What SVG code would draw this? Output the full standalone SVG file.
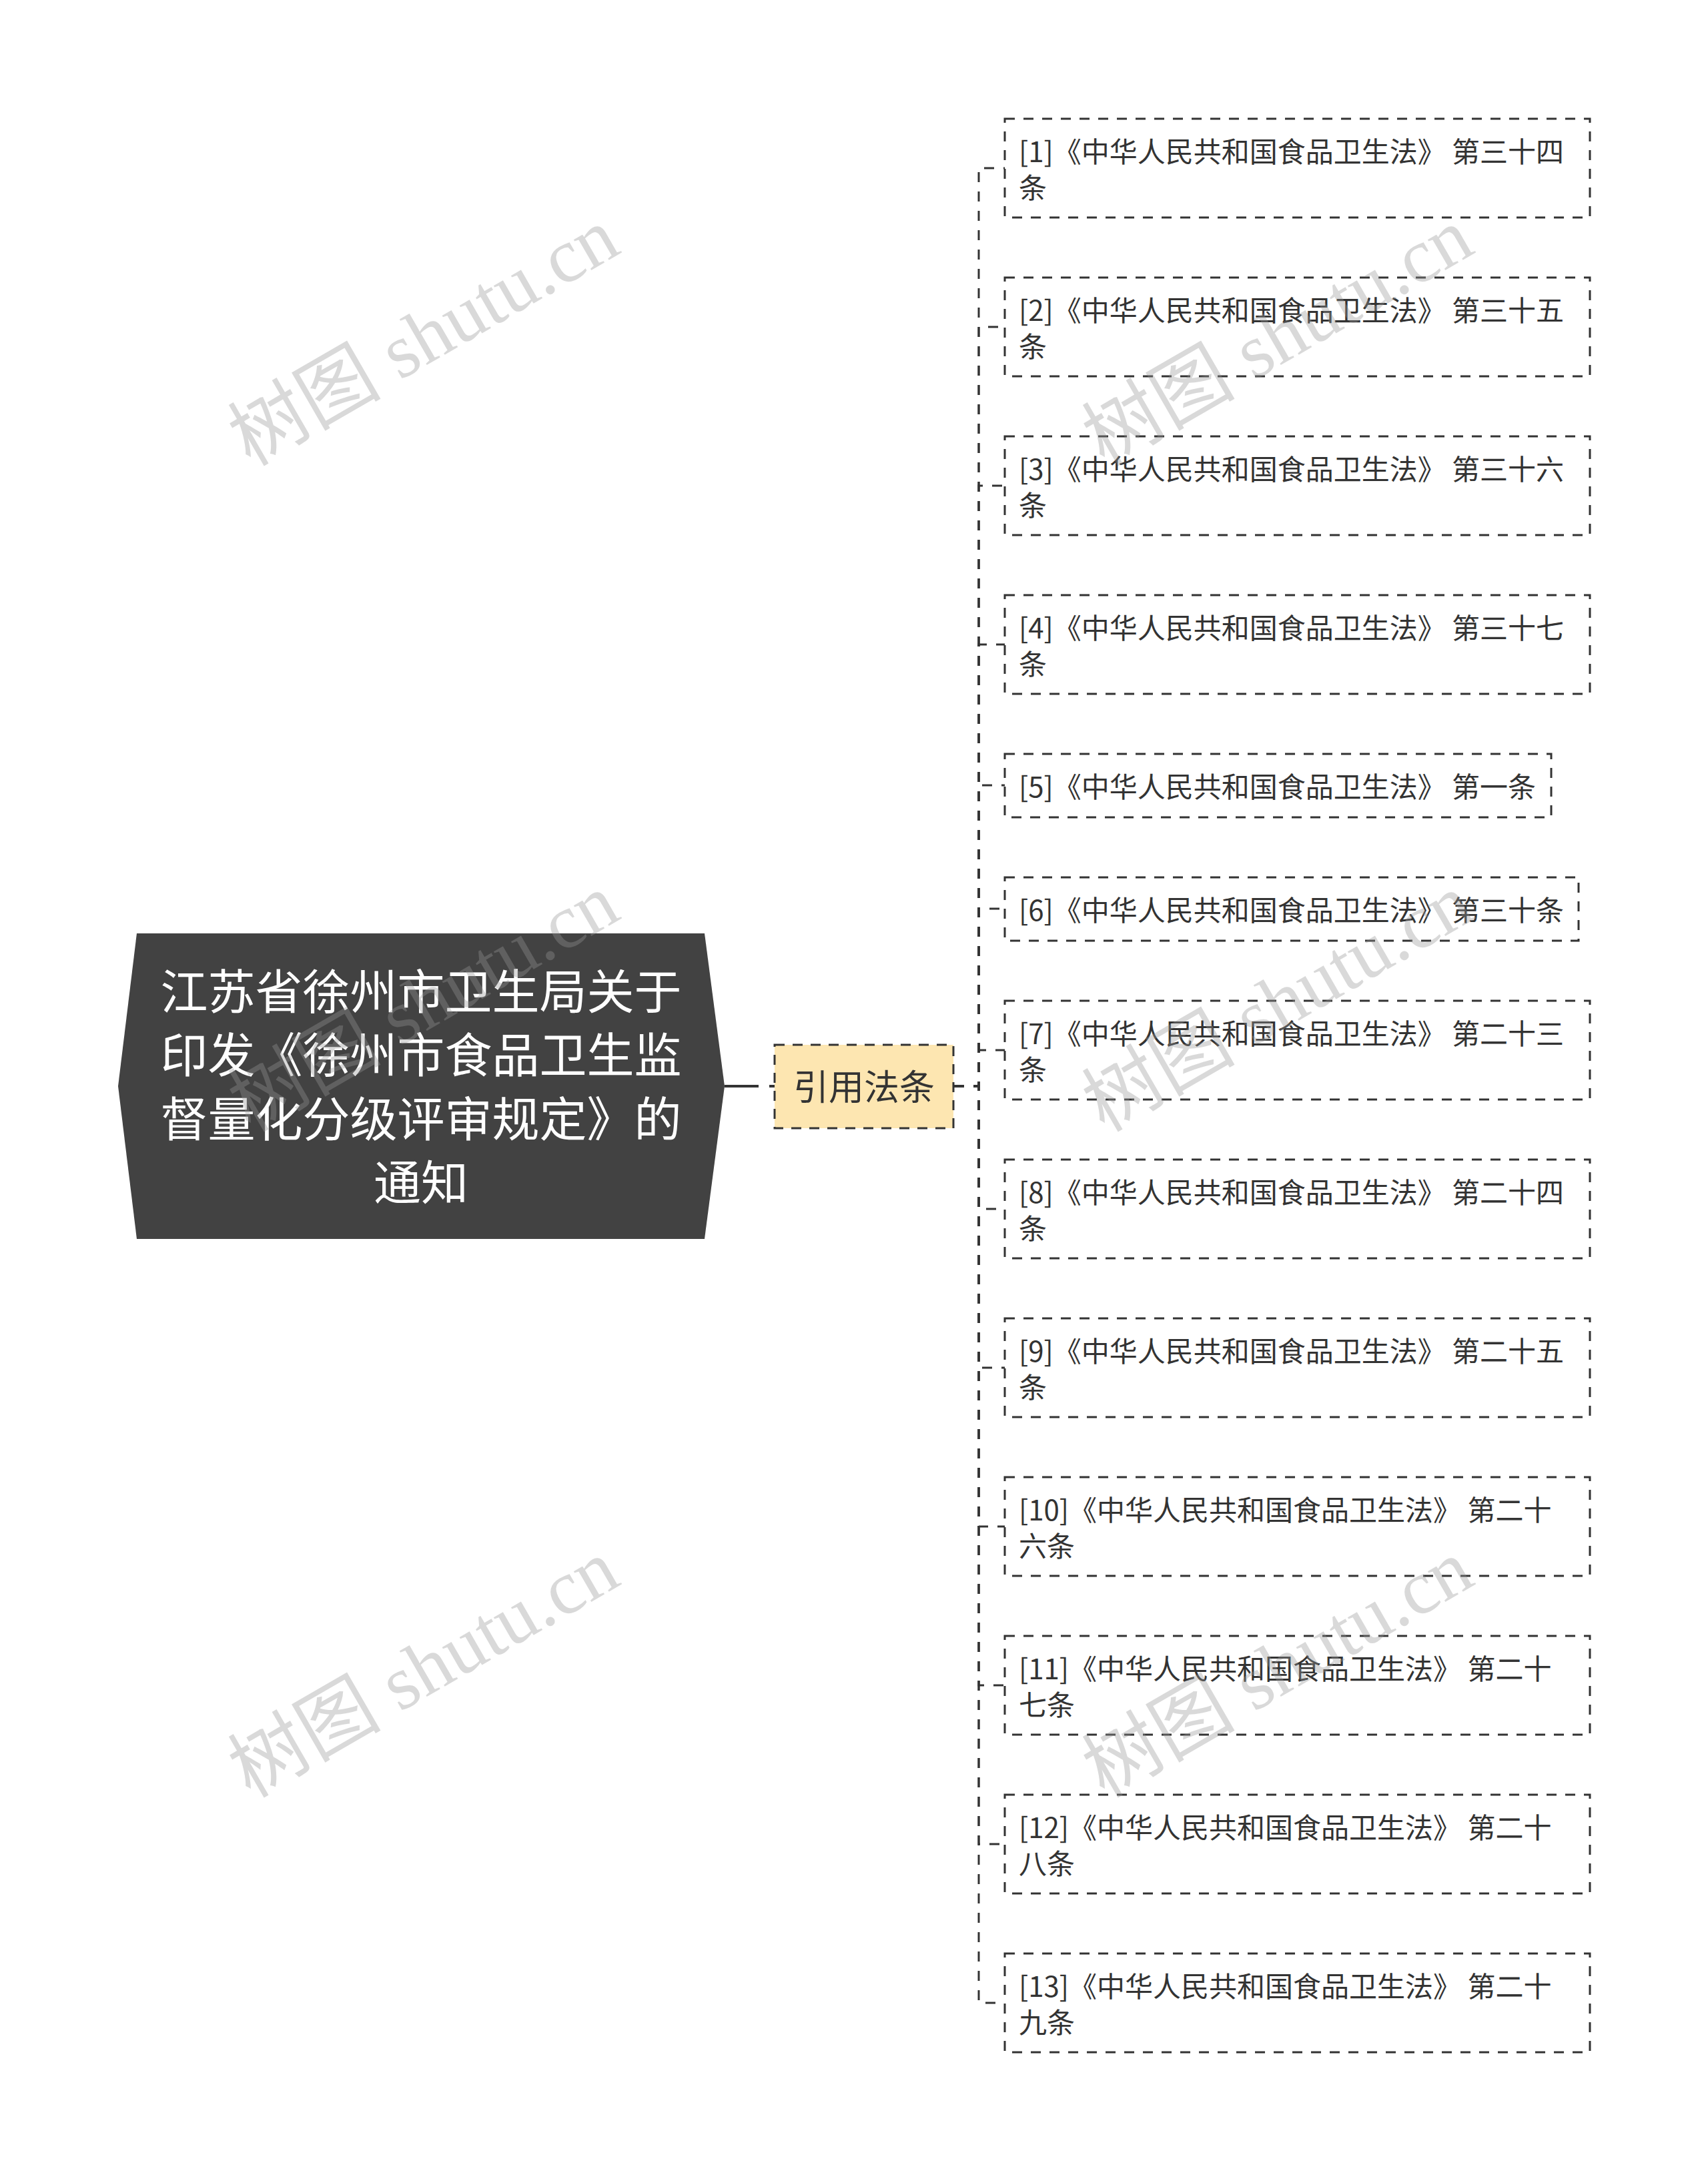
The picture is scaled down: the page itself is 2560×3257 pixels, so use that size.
<svg xmlns="http://www.w3.org/2000/svg" width="2560" height="3257" viewBox="0 0 2560 3257">
<style>
.bg{fill:#ffffff}
.root{fill:#424242}
.rt{font-family:"Noto Sans CJK SC","Noto Sans",sans-serif;font-size:71px;fill:#ffffff;text-anchor:middle}
.mid{fill:#fde6b1;stroke:#333333;stroke-width:3;stroke-dasharray:15 12}
.mt{font-family:"Noto Sans CJK SC","Noto Sans",sans-serif;font-size:53px;fill:#333333;text-anchor:middle}
.leaf{fill:#ffffff;stroke:#333333;stroke-width:3;stroke-dasharray:15 13}
.lt{font-family:"Noto Sans CJK SC","Noto Sans",sans-serif;font-size:42px;fill:#333333}
.con{fill:none;stroke:#333333;stroke-width:3;stroke-dasharray:15 14}
.wm{font-family:"Liberation Serif","Noto Sans CJK SC",serif;font-size:115px;fill:rgb(150,150,150);fill-opacity:0.36}
</style>
<rect class="bg" x="0" y="0" width="2560" height="3257"/>

<g id="connectors">
  <line x1="1086" y1="1628" x2="1161" y2="1628" stroke="#333333" stroke-width="4" stroke-dasharray="51 16"/>
  <path class="con" d="M1430,1628 H1467 V252 H1506"/>
  <path class="con" d="M1430,1628 H1467 V490 H1506"/>
  <path class="con" d="M1430,1628 H1467 V728 H1506"/>
  <path class="con" d="M1430,1628 H1467 V966 H1506"/>
  <path class="con" d="M1430,1628 H1467 V1177 H1506"/>
  <path class="con" d="M1430,1628 H1467 V1362 H1506"/>
  <path class="con" d="M1430,1628 H1467 V1574 H1506"/>
  <path class="con" d="M1430,1628 H1467 V1812 H1506"/>
  <path class="con" d="M1430,1628 H1467 V2050 H1506"/>
  <path class="con" d="M1430,1628 H1467 V2288 H1506"/>
  <path class="con" d="M1430,1628 H1467 V2526 H1506"/>
  <path class="con" d="M1430,1628 H1467 V2764 H1506"/>
  <path class="con" d="M1430,1628 H1467 V3002 H1506"/>
</g>

<g id="node-root">
  <polygon class="root" points="205,1399 1056,1399 1086,1628 1056,1857 205,1857 177,1628"/>
  <text class="rt" x="631" y="1512">江苏省徐州市卫生局关于</text>
  <text class="rt" x="631" y="1607">印发《徐州市食品卫生监</text>
  <text class="rt" x="631" y="1703">督量化分级评审规定》的</text>
  <text class="rt" x="631" y="1798">通知</text>
</g>

<g id="node-cite">
  <rect class="mid" x="1161" y="1566" width="268" height="125"/>
  <text class="mt" x="1295" y="1649">引用法条</text>
</g>

<g id="leaf-1">
  <rect class="leaf" x="1506" y="178" width="877" height="148"/>
  <text class="lt" x="1527" y="243">[1]《中华人民共和国食品卫生法》 第三十四</text>
  <text class="lt" x="1527" y="297">条</text>
</g>
<g id="leaf-2">
  <rect class="leaf" x="1506" y="416" width="877" height="148"/>
  <text class="lt" x="1527" y="481">[2]《中华人民共和国食品卫生法》 第三十五</text>
  <text class="lt" x="1527" y="535">条</text>
</g>
<g id="leaf-3">
  <rect class="leaf" x="1506" y="654" width="877" height="148"/>
  <text class="lt" x="1527" y="719">[3]《中华人民共和国食品卫生法》 第三十六</text>
  <text class="lt" x="1527" y="773">条</text>
</g>
<g id="leaf-4">
  <rect class="leaf" x="1506" y="892" width="877" height="148"/>
  <text class="lt" x="1527" y="957">[4]《中华人民共和国食品卫生法》 第三十七</text>
  <text class="lt" x="1527" y="1011">条</text>
</g>
<g id="leaf-5">
  <rect class="leaf" x="1506" y="1130" width="819" height="95"/>
  <text class="lt" x="1527" y="1195">[5]《中华人民共和国食品卫生法》 第一条</text>
</g>
<g id="leaf-6">
  <rect class="leaf" x="1506" y="1315" width="860" height="95"/>
  <text class="lt" x="1527" y="1380">[6]《中华人民共和国食品卫生法》 第三十条</text>
</g>
<g id="leaf-7">
  <rect class="leaf" x="1506" y="1500" width="877" height="148"/>
  <text class="lt" x="1527" y="1565">[7]《中华人民共和国食品卫生法》 第二十三</text>
  <text class="lt" x="1527" y="1619">条</text>
</g>
<g id="leaf-8">
  <rect class="leaf" x="1506" y="1738" width="877" height="148"/>
  <text class="lt" x="1527" y="1803">[8]《中华人民共和国食品卫生法》 第二十四</text>
  <text class="lt" x="1527" y="1857">条</text>
</g>
<g id="leaf-9">
  <rect class="leaf" x="1506" y="1976" width="877" height="148"/>
  <text class="lt" x="1527" y="2041">[9]《中华人民共和国食品卫生法》 第二十五</text>
  <text class="lt" x="1527" y="2095">条</text>
</g>
<g id="leaf-10">
  <rect class="leaf" x="1506" y="2214" width="877" height="148"/>
  <text class="lt" x="1527" y="2279">[10]《中华人民共和国食品卫生法》 第二十</text>
  <text class="lt" x="1527" y="2333">六条</text>
</g>
<g id="leaf-11">
  <rect class="leaf" x="1506" y="2452" width="877" height="148"/>
  <text class="lt" x="1527" y="2517">[11]《中华人民共和国食品卫生法》 第二十</text>
  <text class="lt" x="1527" y="2571">七条</text>
</g>
<g id="leaf-12">
  <rect class="leaf" x="1506" y="2690" width="877" height="148"/>
  <text class="lt" x="1527" y="2755">[12]《中华人民共和国食品卫生法》 第二十</text>
  <text class="lt" x="1527" y="2809">八条</text>
</g>
<g id="leaf-13">
  <rect class="leaf" x="1506" y="2928" width="877" height="148"/>
  <text class="lt" x="1527" y="2993">[13]《中华人民共和国食品卫生法》 第二十</text>
  <text class="lt" x="1527" y="3047">九条</text>
</g>

<g id="watermarks">
  <text class="wm" x="375" y="700" transform="rotate(-30 375 700)">树图 shutu.cn</text>
  <text class="wm" x="1655" y="700" transform="rotate(-30 1655 700)">树图 shutu.cn</text>
  <text class="wm" x="375" y="1698" transform="rotate(-30 375 1698)">树图 shutu.cn</text>
  <text class="wm" x="1655" y="1698" transform="rotate(-30 1655 1698)">树图 shutu.cn</text>
  <text class="wm" x="375" y="2696" transform="rotate(-30 375 2696)">树图 shutu.cn</text>
  <text class="wm" x="1655" y="2696" transform="rotate(-30 1655 2696)">树图 shutu.cn</text>
</g>
</svg>
